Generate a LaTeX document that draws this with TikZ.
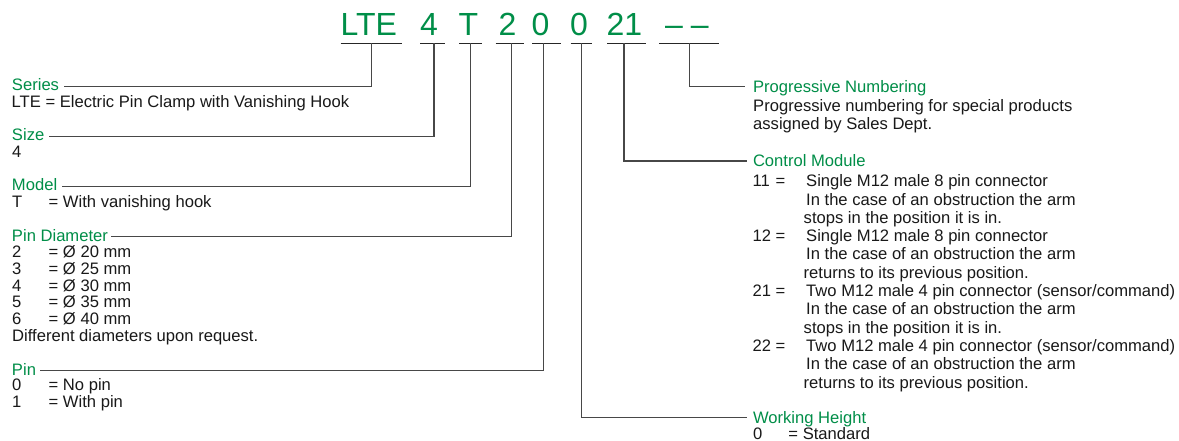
\documentclass[tikz,border=0pt]{standalone}
\usepackage{fontspec}
\setmainfont{Liberation Sans}
\definecolor{codegreen}{RGB}{0,142,72}
\definecolor{txt}{RGB}{25,25,25}
\begin{document}
\begin{tikzpicture}[x=1pt,y=-1pt,
  code/.style={inner sep=0pt, anchor=base west, text=codegreen, font=\fontsize{32}{36}\selectfont},
  lblL/.style={inner sep=0pt, outer sep=0pt, text height=9pt, text depth=0pt, anchor=south west, text=codegreen, font=\fontsize{16.6}{18}\selectfont},
  lblR/.style={lblL, text height=11.4pt},
  bodyL/.style={inner sep=0pt, anchor=base west, align=left, text=txt, font=\fontsize{16.6}{16.67}\selectfont},
  bodyR/.style={inner sep=0pt, anchor=base west, align=left, text=txt, font=\fontsize{16.6}{18.3}\selectfont},
  uline/.style={line width=1.6pt, black!85},
  conn/.style={line width=1.1pt, black!72},
]
\useasboundingbox[fill=white] (0,0) rectangle (1179,440);

% ---- code line ----
\node[code] (cLTE) at (340.4,35.7) {LTE};
\node[code] (c4) at (419.9,35.7) {4};
\node[code] (cT) at (458.3,35.7) {T};
\node[code] (c2) at (498.3,35.7) {2};
\node[code] (c0a) at (531.4,35.7) {0};
\node[code] (c0b) at (570,35.7) {0};
\node[code] (c21) at (606.3,35.7) {21};
\node[code] (cdash) at (665,35.7) {–\hspace{8pt}–};

% underlines
\draw[uline] (340.7,43.3) -- (401.7,43.3);
\draw[uline] (420,43.3) -- (445,43.3);
\draw[uline] (459.3,43.3) -- (481.7,43.3);
\draw[uline] (495.7,43.3) -- (524.3,43.3);
\draw[uline] (532.3,43.3) -- (561,43.3);
\draw[uline] (570.7,43.3) -- (592.3,43.3);
\draw[uline] (607.3,43.3) -- (646,43.3);
\draw[uline] (659,43.3) -- (719.3,43.3);

% stem tops
\coordinate (u1) at (371.7,43.3);
\coordinate (u2) at (434,43.3);
\coordinate (u3) at (470.3,43.3);
\coordinate (u4) at (511.7,43.3);
\coordinate (u5) at (543.3,43.3);
\coordinate (u6) at (581.7,43.3);
\coordinate (u7) at (624,43.3);
\coordinate (u8) at (689.3,43.3);

% ---- left column ----
\node[lblL] (series) at (12,90.7) {Series};
\node[bodyL] (seriesB) at (11.5,107.3) {LTE = Electric Pin Clamp with Vanishing Hook};

\node[lblL] (size) at (12,140.7) {Size};
\node[bodyL] (sizeB) at (12,157.3) {4};

\node[lblL] (model) at (12,190.7) {Model};
\node[bodyL] (modelB) at (12,207.3) {\makebox[36.5pt][l]{T}= With vanishing hook};

\node[lblL] (pindia) at (12,241) {Pin Diameter};
% anchor base = baseline of the last line (first line at 257.7)
\node[bodyL] (pindiaB) at (12,341.05) {\makebox[36.5pt][l]{2}= Ø 20 mm\\
\makebox[36.5pt][l]{3}= Ø 25 mm\\
\makebox[36.5pt][l]{4}= Ø 30 mm\\
\makebox[36.5pt][l]{5}= Ø 35 mm\\
\makebox[36.5pt][l]{6}= Ø 40 mm\\
Different diameters upon request.};

\node[lblL] (pin) at (12,375) {Pin};
\node[bodyL] (pinB) at (12,407.4) {\makebox[36.5pt][l]{0}= No pin\\
\makebox[36.5pt][l]{1}= With pin};

% ---- right column ----
\node[lblR] (prog) at (753,92.6) {Progressive Numbering};
\node[bodyR] (progB) at (753,129.3) {Progressive numbering for special products\\
assigned by Sales Dept.};

\node[lblR] (cm) at (753,166.7) {Control Module};
\node[bodyR] (cmB) at (752.5,388) {\makebox[23pt][l]{11}\makebox[30.5pt][l]{=}Single M12 male 8 pin connector\\
\hspace*{53.5pt}In the case of an obstruction the arm\\
\hspace*{51pt}stops in the position it is in.\\
\makebox[23pt][l]{12}\makebox[30.5pt][l]{=}Single M12 male 8 pin connector\\
\hspace*{53.5pt}In the case of an obstruction the arm\\
\hspace*{51pt}returns to its previous position.\\
\makebox[23pt][l]{21}\makebox[30.5pt][l]{=}Two M12 male 4 pin connector (sensor/command)\\
\hspace*{53.5pt}In the case of an obstruction the arm\\
\hspace*{51pt}stops in the position it is in.\\
\makebox[23pt][l]{22}\makebox[30.5pt][l]{=}Two M12 male 4 pin connector (sensor/command)\\
\hspace*{53.5pt}In the case of an obstruction the arm\\
\hspace*{51pt}returns to its previous position.};

\node[lblR] (wh) at (753,423.3) {Working Height};
\node[bodyR] (whB) at (753,439.5) {\makebox[35.3pt][l]{0}= Standard};

% ---- connectors ----
\draw[conn] (u1) |- ([xshift=4.5pt]series.east);
\draw[conn] (u2) |- ([xshift=4.5pt]size.east);
\draw[conn] (u3) |- ([xshift=4.5pt]model.east);
\draw[conn] (u4) |- ([xshift=3.5pt]pindia.east);
\draw[conn] (u5) |- ([xshift=4.5pt]pin.east);
\draw[conn] (u6) |- ([xshift=-6pt]wh.west);
\draw[conn] (u7) |- ([xshift=-6pt]cm.west);
\draw[conn] (u8) |- ([xshift=-8pt]prog.west);
\end{tikzpicture}
\end{document}
